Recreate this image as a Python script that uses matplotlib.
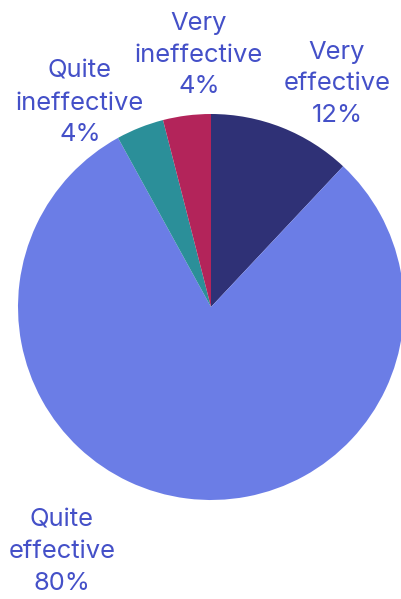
import matplotlib.pyplot as plt

labels = ["Very\neffective", "Quite\neffective", "Quite\nineffective", "Very\nineffective"]
values = [12, 80, 4, 4]
colors = ["#2f3176", "#6b7de6", "#2b8f99", "#b3245a"]

# label anchor points (pixels from top-left)
label_pos = [(337, 84), (62, 552), (80, 103), (199, 55)]

W, H = 402, 599
fig = plt.figure(figsize=(W / 100, H / 100), dpi=100)
ax = fig.add_axes([0, 0, 1, 1])
ax.axis("off")

ax.pie(values, colors=colors, startangle=90, counterclock=False,
       center=(211, H - 307), radius=193,
       wedgeprops=dict(linewidth=0))
ax.set_xlim(0, W)
ax.set_ylim(0, H)
ax.set_aspect("auto")

for lab, v, (x, y) in zip(labels, values, label_pos):
    ax.text(x, H - y, f"{lab}\n{v}%", ha="center", va="center",
            fontsize=18.4, family="Inter", color="#4450c8", linespacing=1.48)

plt.savefig("out.png", dpi=100)
